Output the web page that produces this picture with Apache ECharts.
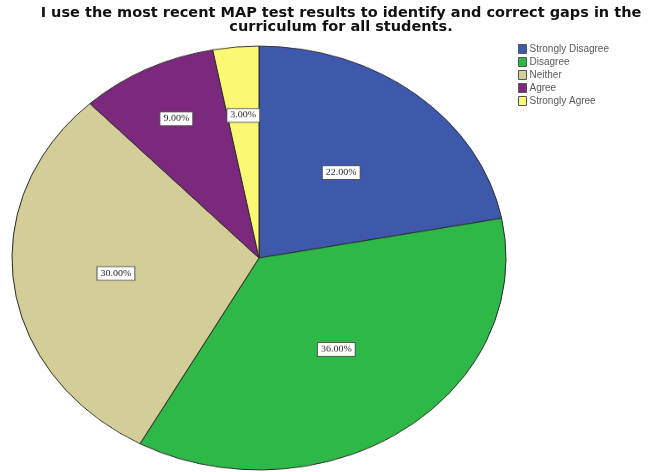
<!DOCTYPE html>
<html>
<head>
<meta charset="utf-8">
<script src="https://cdn.jsdelivr.net/npm/echarts@6/dist/echarts.min.js"></script>
<style>
html,body{margin:0;padding:0;width:648px;height:472px;overflow:hidden;background:#fff;}
#pie{position:absolute;left:0;top:0;width:648px;height:520px;transform-origin:0 258px;transform:scaleY(0.858);}
#top{position:absolute;left:0;top:0;width:648px;height:472px;}
</style>
</head>
<body>
<div id="pie"></div>
<div id="top"></div>
<script>
const categories = ['Strongly Disagree', 'Disagree', 'Neither', 'Agree', 'Strongly Agree'];
const values = [22, 36, 30, 9, 3];
const colors = ['#3E58AC', '#2EB848', '#D3CE97', '#7C287D', '#FBF873'];
const titleText = 'I use the most recent MAP test results to identify and correct gaps in the\ncurriculum for all students.';

const pieData = categories.map((c, i) => ({ name: c, value: values[i], itemStyle: { color: colors[i] } }));

// label radial position as fraction of radius (SPSS places small-slice labels further out)
const labelFrac = [0.51, 0.52, 0.57, 0.72, 0.66];
const CX = 259, CY = 258, R = 247;

const pieChart = echarts.init(document.getElementById('pie'), null, { renderer: 'canvas' });
pieChart.setOption({
  animation: false,
  series: [{
    type: 'pie',
    center: [CX, CY],
    radius: R,
    startAngle: 90,
    clockwise: true,
    data: pieData,
    itemStyle: { borderColor: '#2a2a2a', borderWidth: 1 },
    emphasis: { disabled: true },
    label: {
      show: true,
      position: 'inside',
      formatter: p => p.percent.toFixed(2) + '%',
      fontFamily: 'Liberation Serif',
      fontSize: 10,
      color: '#222',
      backgroundColor: '#ffffff',
      borderColor: '#555',
      borderWidth: 1,
      padding: [3, 3, 2, 3]
    },
    labelLine: { show: false },
    labelLayout: function (params) {
      const r = params.labelRect;
      const lx = r.x + r.width / 2, ly = r.y + r.height / 2;
      const k = labelFrac[params.dataIndex] / 0.5 - 1;
      return { dx: (lx - CX) * k, dy: (ly - CY) * k };
    }
  }]
});

const topChart = echarts.init(document.getElementById('top'), null, { renderer: 'canvas' });
topChart.setOption({
  animation: false,
  title: {
    text: titleText,
    left: 341,
    top: 6,
    padding: 0,
    textAlign: 'center',
    textStyle: { fontFamily: 'DejaVu Sans', fontWeight: 'bold', fontSize: 14.5, lineHeight: 14, color: '#111' }
  },
  legend: {
    orient: 'vertical',
    left: 518,
    top: 44,
    padding: 0,
    itemWidth: 8,
    itemHeight: 9,
    itemGap: 3,
    icon: 'rect',
    itemStyle: { borderColor: '#555', borderWidth: 1 },
    textStyle: { fontFamily: 'Liberation Sans', fontSize: 10, color: '#5a5a5a', padding: [0, 0, 0, -2] },
    data: categories,
    selectedMode: false
  },
  series: [{
    type: 'pie',
    radius: 0,
    silent: true,
    label: { show: false },
    data: pieData
  }]
});
</script>
</body>
</html>
